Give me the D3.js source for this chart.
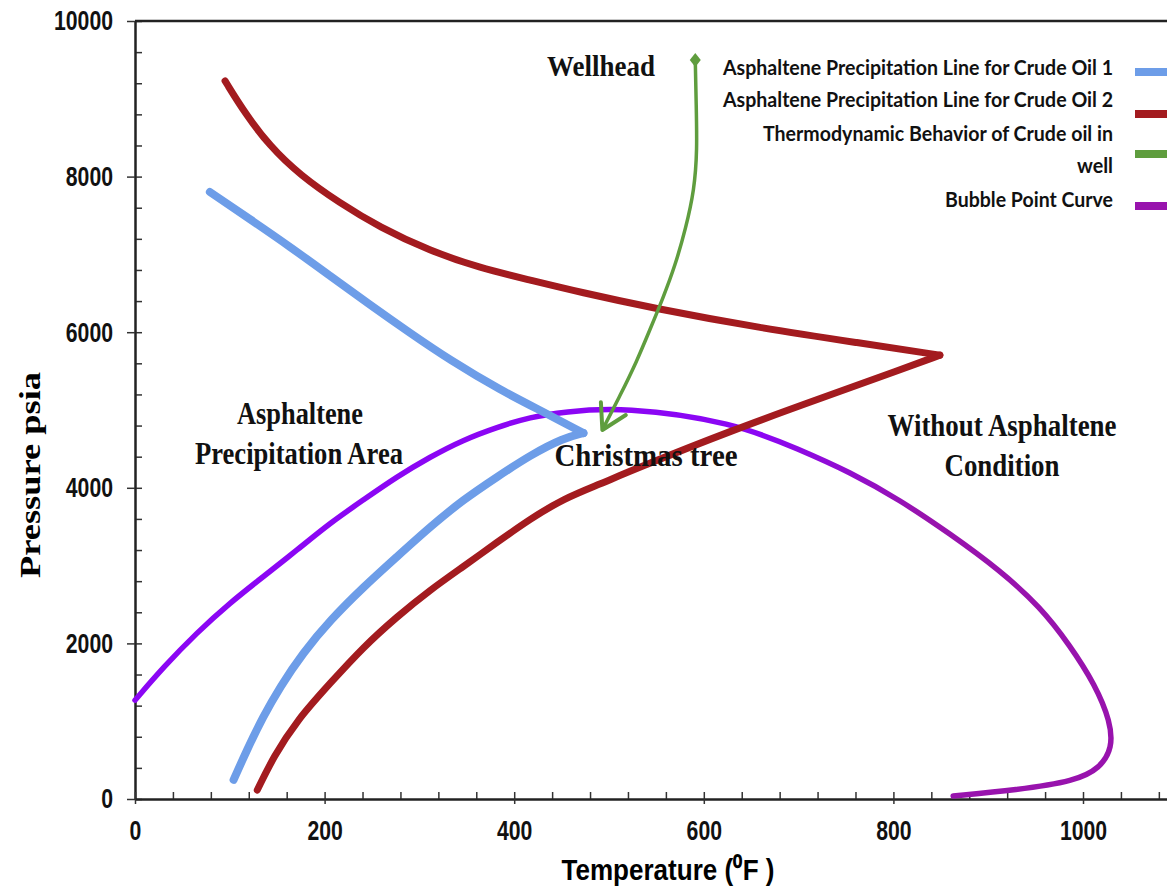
<!DOCTYPE html>
<html>
<head>
<meta charset="utf-8">
<script src="https://cdn.jsdelivr.net/npm/d3@7"></script>
<style>
  body { margin: 0; background: #fff; }
  .tick text { font-family: "Liberation Sans Narrow", "Arial Narrow", "Liberation Sans", Arial, sans-serif; font-weight: bold; fill: #111; }
</style>
</head>
<body>
<div id="chart"></div>
<script>
// ---- data: [temperature F, pressure psia] ----
var tempTicks = [0, 200, 400, 600, 800, 1000];
var pressTicks = [0, 2000, 4000, 6000, 8000, 10000];

var oil1Upper = [[79,7802],[121,7455],[164,7095],[206,6722],[248,6350],[290,5990],[332,5643],[385,5257],[433,4961],[473,4704]];
var oil1Lower = [[473,4704],[452,4640],[417,4420],[382,4140],[346,3845],[311,3495],[276,3110],[241,2725],[206,2300],[177,1875],[153,1440],[135,1055],[118,630],[104,245]];

var oil2Upper = [[95,9230],[116,8815],[142,8395],[174,8020],[216,7660],[258,7350],[311,7045],[364,6825],[417,6670],[469,6515],[546,6310],[659,6055],[765,5860],[849,5705]];
var oil2Lower = [[849,5705],[807,5515],[730,5180],[631,4745],[525,4229],[491,4050],[452,3860],[417,3600],[382,3300],[346,2985],[311,2685],[276,2340],[241,1955],[206,1490],[171,1015],[146,540],[129,115]];

var wellPath = [[591,9499],[592,8920],[593,8342],[590,7828],[581,7339],[570,6864],[557,6440],[543,6028],[529,5617],[512,5193],[493,4743]];

var bubblePoint = [[0,1270],[30,1695],[65,2135],[100,2520],[135,2855],[171,3200],[206,3550],[241,3845],[276,4140],[311,4395],[346,4615],[382,4780],[417,4910],[452,4975],[515,5040],[631,4845],[702,4486],[754,4203],[807,3843],[860,3406],[912,2943],[955,2468],[986,1979],[1013,1465],[1029,990],[1031,656],[1018,398],[992,231],[930,116],[863,39]];

var legendNames = ["Asphaltene Precipitation Line for Crude Oil 1", "Asphaltene Precipitation Line for Crude Oil 2",
                   "Thermodynamic Behavior of Crude oil in|well", "Bubble Point Curve"];

var width = 1167, height = 889;

var x = d3.scaleLinear().domain([0, 1088.6]).range([135, 1167]);
var y = d3.scaleLinear().domain([0, 10000]).range([799, 21]);

var svg = d3.select("#chart").append("svg")
    .attr("width", width)
    .attr("height", height);

var defs = svg.append("defs");

// bubble point line goes from violet to purple
var grad = defs.append("linearGradient")
    .attr("id", "bpGrad")
    .attr("gradientUnits", "userSpaceOnUse")
    .attr("x1", x(660)).attr("x2", x(830)).attr("y1", 0).attr("y2", 0);
grad.append("stop").attr("offset", 0).attr("stop-color", "#8b06f4");
grad.append("stop").attr("offset", 1).attr("stop-color", "#9813ad");

defs.append("marker")
    .attr("id", "arrowEnd")
    .attr("markerUnits", "userSpaceOnUse")
    .attr("viewBox", "-30 -20 34 40")
    .attr("markerWidth", 34).attr("markerHeight", 40)
    .attr("refX", 0).attr("refY", 0)
    .attr("orient", "auto")
  .append("path")
    .attr("d", "M-24,-14L0,0L-24,14")
    .attr("fill", "none")
    .attr("stroke", "#5f9d3e")
    .attr("stroke-width", 4)
    .attr("stroke-linecap", "round")
    .attr("stroke-linejoin", "round");

defs.append("marker")
    .attr("id", "diamondStart")
    .attr("markerUnits", "userSpaceOnUse")
    .attr("viewBox", "-8 -8 16 16")
    .attr("markerWidth", 16).attr("markerHeight", 16)
    .attr("refX", 0).attr("refY", 0)
  .append("path")
    .attr("d", "M0,-7L5.5,0L0,7L-5.5,0Z")
    .attr("fill", "#5f9d3e");

// ---- axes ----
function styleAxis(g) {
  g.select(".domain").attr("stroke", "#222").attr("stroke-width", 2);
  g.selectAll(".tick line").attr("stroke", "#333").attr("stroke-width", 1.5);
}
// narrow look for the tick numbers
function narrowLabels(sel) {
  sel.style("font-size", "28px")
     .attr("textLength", function() { return this.textContent.length * 11.8; })
     .attr("lengthAdjust", "spacingAndGlyphs");
}

svg.append("g")
    .attr("transform", "translate(" + x(0) + ",0)")
    .call(d3.axisLeft(y).tickValues(d3.range(0, 10001, 400)).tickSize(-7).tickSizeOuter(0).tickFormat(""))
    .call(styleAxis);

svg.append("g")
    .attr("transform", "translate(" + x(0) + ",0)")
    .call(d3.axisLeft(y).tickValues(pressTicks).tickSize(8).tickSizeOuter(0).tickPadding(14).tickFormat(d3.format("d")))
    .call(styleAxis)
    .selectAll("text").call(narrowLabels);

svg.append("g")
    .attr("transform", "translate(0," + y(0) + ")")
    .call(d3.axisBottom(x).tickValues(d3.range(0, 1081, 40)).tickSize(-7).tickSizeOuter(0).tickFormat(""))
    .call(styleAxis);

svg.append("g")
    .attr("transform", "translate(0," + y(0) + ")")
    .call(d3.axisBottom(x).tickValues(tempTicks).tickSize(5).tickSizeOuter(0).tickPadding(16).tickFormat(d3.format("d")))
    .call(styleAxis)
    .selectAll("text").call(narrowLabels);

// top frame line
svg.append("line")
    .attr("x1", x(0)).attr("x2", x.range()[1])
    .attr("y1", y(10000)).attr("y2", y(10000))
    .attr("stroke", "#222").attr("stroke-width", 2.5);

// axis titles
svg.append("text")
    .attr("transform", "translate(40,475) rotate(-90)")
    .attr("text-anchor", "middle")
    .attr("textLength", 206).attr("lengthAdjust", "spacingAndGlyphs")
    .style("font-family", "'Liberation Serif', 'Times New Roman', serif")
    .style("font-weight", "bold")
    .style("font-size", "30px")
    .text("Pressure  psia");

svg.append("text")
    .attr("x", 668).attr("y", 880)
    .attr("text-anchor", "middle")
    .attr("textLength", 213).attr("lengthAdjust", "spacingAndGlyphs")
    .style("font-family", "'Liberation Sans Narrow', 'Arial Narrow', 'Liberation Sans', sans-serif")
    .style("font-weight", "bold")
    .style("font-size", "30px")
    .text("Temperature (\u2070F )");

// ---- curves ----
var line = d3.line()
    .x(function(d) { return x(d[0]); })
    .y(function(d) { return y(d[1]); })
    .curve(d3.curveBasis);

svg.append("path").datum(bubblePoint)
    .attr("d", line).attr("fill", "none")
    .attr("stroke", "url(#bpGrad)").attr("stroke-width", 5.5)
    .attr("stroke-linecap", "round");

[oil1Upper, oil1Lower].forEach(function(s) {
  svg.append("path").datum(s)
      .attr("d", line).attr("fill", "none")
      .attr("stroke", "#6d9de8").attr("stroke-width", 8)
      .attr("stroke-linecap", "round").attr("stroke-linejoin", "round");
});

[oil2Upper, oil2Lower].forEach(function(s) {
  svg.append("path").datum(s)
      .attr("d", line).attr("fill", "none")
      .attr("stroke", "#a31b1f").attr("stroke-width", 7)
      .attr("stroke-linecap", "round").attr("stroke-linejoin", "round");
});

svg.append("path").datum(wellPath)
    .attr("d", line).attr("fill", "none")
    .attr("stroke", "#5f9d3e").attr("stroke-width", 3.5)
    .attr("marker-start", "url(#diamondStart)")
    .attr("marker-end", "url(#arrowEnd)");

// ---- annotations ----
var notes = [
  {t: "Wellhead", x: 601, y: 76, len: 108, size: 30},
  {t: "Asphaltene", x: 300, y: 424, len: 126, size: 31},
  {t: "Precipitation Area", x: 299, y: 464, len: 208, size: 31},
  {t: "Christmas tree", x: 646, y: 466, len: 183, size: 32},
  {t: "Without Asphaltene", x: 1002, y: 436, len: 229, size: 31},
  {t: "Condition", x: 1002, y: 476, len: 115, size: 31}
];
svg.selectAll(".note").data(notes).enter().append("text")
    .attr("class", "note")
    .attr("x", function(d) { return d.x; })
    .attr("y", function(d) { return d.y; })
    .attr("text-anchor", "middle")
    .attr("textLength", function(d) { return d.len; })
    .attr("lengthAdjust", "spacingAndGlyphs")
    .style("font-family", "'Liberation Serif', 'Times New Roman', serif")
    .style("font-weight", "bold")
    .style("font-size", function(d) { return d.size + "px"; })
    .style("fill", "#111")
    .text(function(d) { return d.t; });

// ---- legend ----
var legendColors = ["#6d9de8", "#a31b1f", "#5f9d3e", "#9813ad"];
var legendSwatchY = [72, 114, 154, 206];
var legendTextY = [[75], [107], [141, 173], [207]];
var legendLens = [[390], [390], [350, 36], [168]];

legendNames.forEach(function(name, i) {
  name.split("|").forEach(function(part, j) {
    svg.append("text")
        .attr("x", 1113).attr("y", legendTextY[i][j])
        .attr("text-anchor", "end")
        .attr("textLength", legendLens[i][j]).attr("lengthAdjust", "spacingAndGlyphs")
        .style("font-family", "Lato, 'Open Sans', sans-serif")
        .style("font-weight", "bold")
        .style("font-size", "20px")
        .style("fill", "#111")
        .text(part);
  });
  svg.append("line")
      .attr("x1", 1135).attr("x2", 1175)
      .attr("y1", legendSwatchY[i]).attr("y2", legendSwatchY[i])
      .attr("stroke", legendColors[i]).attr("stroke-width", 8);
});
</script>
</body>
</html>
